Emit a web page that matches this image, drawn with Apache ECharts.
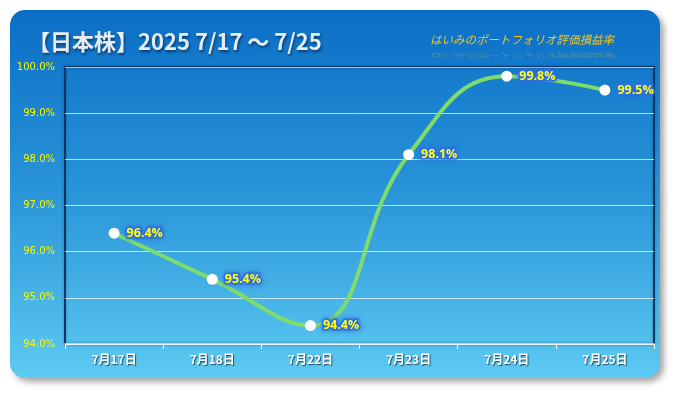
<!DOCTYPE html>
<html><head><meta charset="utf-8">
<script src="https://cdn.jsdelivr.net/npm/echarts@6/dist/echarts.min.js"></script>
<style>html,body{margin:0;padding:0;background:#fff;}#c{width:675px;height:393px;}</style>
</head><body><div id="c"></div>
<script>
const categories = ['7月17日','7月18日','7月22日','7月23日','7月24日','7月25日'];
const values = [96.4, 95.4, 94.4, 98.1, 99.8, 99.5];
const yTicks = [94, 95, 96, 97, 98, 99, 100];
const titleText = '【日本株】2025 7/17 〜 7/25';
const subText = 'はいみのポートフォリオ評価損益率';

const chart = echarts.init(document.getElementById('c'), null, {renderer:'canvas'});
chart.setOption({
  animation:false,
  graphic:[
    {type:'rect', z:-10, shape:{x:10,y:10,width:650,height:368,r:15},
      style:{fill:new echarts.graphic.LinearGradient(0,0,0,1,[{offset:0,color:'#0a6ec6'},{offset:0.5,color:'#2a95d8'},{offset:1,color:'#5dcaf2'}]),
      shadowColor:'rgba(0,0,0,0.35)',shadowBlur:6,shadowOffsetX:4,shadowOffsetY:4}},
    {type:'text', z:10, left:28, top:31, style:{text:titleText, fill:'#e6edf5', font:'bold 22px "Noto Sans CJK JP", sans-serif',
      textShadowColor:'rgba(0,30,70,0.7)', textShadowBlur:3, textShadowOffsetX:1, textShadowOffsetY:2}},
    {type:'text', z:10, x:430, y:34, style:{text:subText, fill:'#f2c526', font:'italic 11.5px "Noto Sans CJK JP", sans-serif'}},
    {type:'text', z:9, x:430, y:59, scaleY:-0.55, style:{text:subText, fill:'rgba(242,197,38,0.28)', font:'italic 11.5px "Noto Sans CJK JP", sans-serif'}}
  ],
  grid:{left:65,right:21,top:67,bottom:49,show:true,borderColor:'#0a3564',borderWidth:2,backgroundColor:'transparent',
    shadowColor:'rgba(0,0,0,0.3)',shadowBlur:3},
  xAxis:{type:'category',data:categories,boundaryGap:true,
    axisLine:{lineStyle:{color:'#ffffff',width:1.5}},
    axisTick:{show:true,lineStyle:{color:'#ffffff'},length:5,inside:false},
    axisLabel:{color:'#ffffff',fontSize:12,fontWeight:'bold',margin:9,fontFamily:'"Noto Sans CJK JP", sans-serif',
      textShadowColor:'rgba(0,0,0,0.6)',textShadowBlur:1,textShadowOffsetX:1,textShadowOffsetY:1}},
  yAxis:{type:'value',min:94,max:100,interval:1,
    axisLine:{show:false},axisTick:{show:false},
    splitLine:{lineStyle:{color:'rgba(255,255,255,0.7)',width:1}},
    axisLabel:{color:'#f4f800',fontSize:10,margin:10,fontFamily:'Verdana, "DejaVu Sans", sans-serif',
      formatter:v=>v.toFixed(1)+'%'}},
  series:[{type:'line',data:values,smooth:0.45,
    lineStyle:{color:'#7fdc6c',width:4},
    symbol:'circle',symbolSize:11,itemStyle:{color:'#ffffff'},
    label:{show:true,position:'right',distance:7,color:'#ffff1a',fontWeight:'bold',fontSize:12.5,
      fontFamily:'"Open Sans", sans-serif',
      formatter:p=>p.value.toFixed(1)+'%',
      textBorderColor:'#2d6ee0',textBorderWidth:3,textShadowColor:'#2d6ee0',textShadowBlur:5}
  }]
});
</script></body></html>
